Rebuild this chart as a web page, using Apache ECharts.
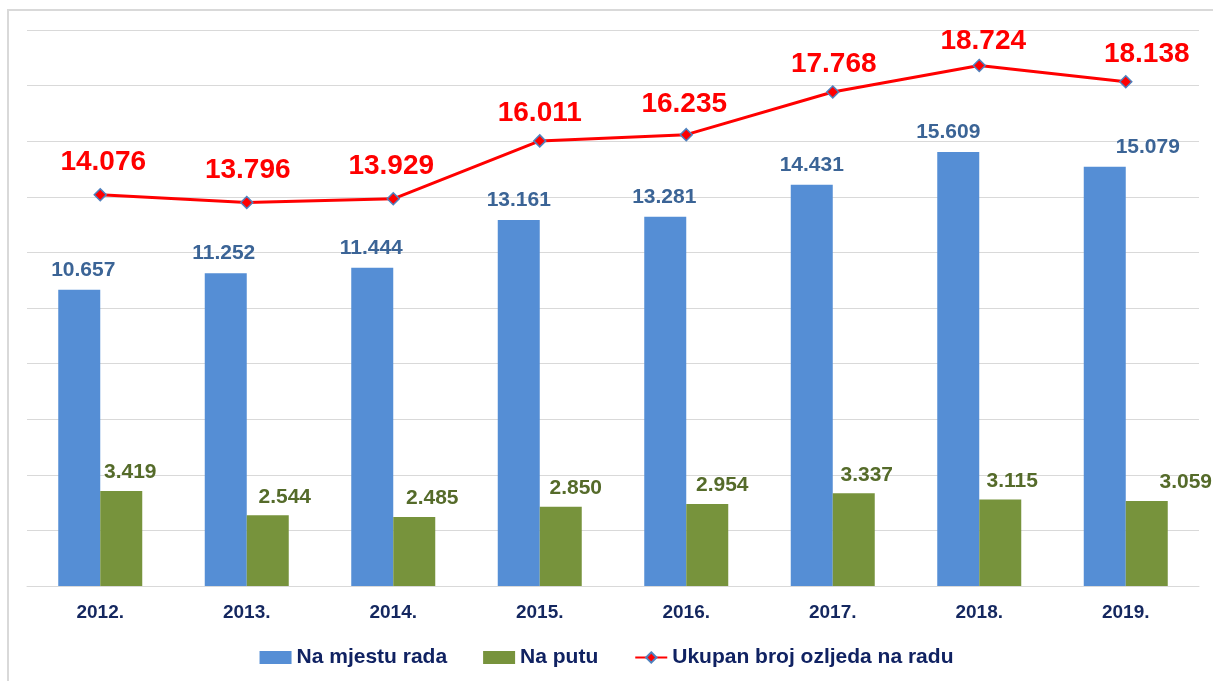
<!DOCTYPE html>
<html>
<head>
<meta charset="utf-8">
<script src="https://cdn.jsdelivr.net/npm/echarts@6/dist/echarts.min.js"></script>
<style>
html,body{margin:0;padding:0;background:#fff;overflow:hidden;}
#frame{position:absolute;left:7px;top:9px;width:1230px;height:700px;border:2px solid #d9d9d9;box-sizing:border-box;}
#chart{position:absolute;left:0;top:0;width:1213px;height:681px;}
</style>
</head>
<body>
<div id="frame"></div>
<div id="chart"></div>
<script>
const categories = ['2012.', '2013.', '2014.', '2015.', '2016.', '2017.', '2018.', '2019.'];
const naMjestuRada = [10657, 11252, 11444, 13161, 13281, 14431, 15609, 15079];
const naPutu = [3419, 2544, 2485, 2850, 2954, 3337, 3115, 3059];
const ukupno = [14076, 13796, 13929, 16011, 16235, 17768, 18724, 18138];
const seriesNames = ['Na mjestu rada', 'Na putu', 'Ukupan broj ozljeda na radu'];

const fmt = v => {
  const s = String(Math.round(v));
  return s.length > 3 ? s.slice(0, s.length - 3) + '.' + s.slice(-3) : s;
};
const FONT = '"Liberation Sans", Arial, sans-serif';

// label shifts (layout only)
const blueShift = [[4,0],[-2,0],[-1,0],[0,0],[-1,0],[0,0],[-10,0],[43,0]];
const greenShift = [[9,0],[17,0],[18,0],[15,0],[15,0],[13,0],[12,0],[39,0]];
const redShift = [[3,-2],[1,-1],[-2,-2],[0,3],[-2,0],[1,3],[4,7],[21,3]];

const chart = echarts.init(document.getElementById('chart'));
chart.setOption({
  animation: false,
  textStyle: { fontFamily: FONT },
  grid: { left: 27, right: 14, top: 30, bottom: 95, containLabel: false },
  legend: {
    bottom: 8,
    left: 'center',
    itemGap: 36,
    itemWidth: 32,
    itemHeight: 13,
    textStyle: { fontFamily: FONT, fontSize: 21, fontWeight: 'bold', color: '#102262' },
    data: [
      { name: seriesNames[0], icon: 'rect' },
      { name: seriesNames[1], icon: 'rect' },
      { name: seriesNames[2] }
    ]
  },
  xAxis: {
    type: 'category',
    data: categories,
    axisLine: { show: true, lineStyle: { color: '#d9d9d9', width: 1 } },
    axisTick: { show: false },
    axisLabel: { fontFamily: FONT, fontSize: 19, fontWeight: 'bold', color: '#14275f', margin: 17 }
  },
  yAxis: {
    type: 'value',
    min: 0,
    max: 20000,
    interval: 2000,
    axisLabel: { show: false },
    axisLine: { show: false },
    axisTick: { show: false },
    splitLine: { lineStyle: { color: '#d9d9d9', width: 1 } }
  },
  series: [
    {
      name: seriesNames[0],
      type: 'bar',
      barWidth: 42,
      barGap: '0%',
      itemStyle: { color: '#558ed5' },
      data: naMjestuRada.map((v, i) => ({
        value: v,
        label: { offset: blueShift[i] }
      })),
      label: {
        show: true, position: 'top', distance: 9,
        fontFamily: FONT, fontSize: 21, fontWeight: 'bold', color: '#3b6496',
        formatter: p => fmt(p.value)
      }
    },
    {
      name: seriesNames[1],
      type: 'bar',
      barWidth: 42,
      barGap: '0%',
      itemStyle: { color: '#77933c' },
      data: naPutu.map((v, i) => ({
        value: v,
        label: { offset: greenShift[i] }
      })),
      label: {
        show: true, position: 'top', distance: 8,
        fontFamily: FONT, fontSize: 21, fontWeight: 'bold', color: '#556b2a',
        formatter: p => fmt(p.value)
      }
    },
    {
      name: seriesNames[2],
      type: 'line',
      symbol: 'diamond',
      symbolSize: 12,
      lineStyle: { color: '#ff0000', width: 3 },
      itemStyle: { color: '#ff0000', borderColor: '#4f81bd', borderWidth: 1.5 },
      data: ukupno.map((v, i) => ({
        value: v,
        label: { offset: redShift[i] }
      })),
      label: {
        show: true, position: 'top', distance: 10,
        fontFamily: FONT, fontSize: 28, fontWeight: 'bold', color: '#ff0000',
        formatter: p => fmt(p.value)
      },
      z: 5
    }
  ]
});
</script>
</body>
</html>
